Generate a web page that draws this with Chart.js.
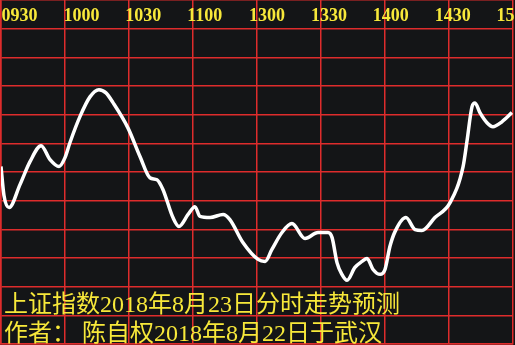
<!DOCTYPE html>
<html>
<head>
<meta charset="utf-8">
<script src="https://cdn.jsdelivr.net/npm/chart.js@4/dist/chart.umd.min.js"></script>
<style>
  html, body { margin: 0; padding: 0; background: #141517; }
  canvas { display: block; }
</style>
</head>
<body>
<canvas id="myChart" width="515" height="345"></canvas>
<script>
// time axis labels, one per 30 minutes of trading
const timeLabels = ['0930', '1000', '1030', '1100', '1300', '1330', '1400', '1430', '1500'];

// trading minutes since 09:30 (lunch break removed) and index level in grid rows
const minutes = [0, 1.4, 3.8, 8.9, 13.6, 18.8, 23, 27.2, 30, 32.3, 37, 41.7, 45.9, 49.2, 52.5, 59.5, 65.2, 69.8,
    73.1, 75.9, 80.6, 83.4, 87.7, 90.9, 93.3, 98, 104.1, 107.3, 113.4, 120.5, 123.8, 127, 131.7, 136.4, 142.5,
    148.6, 153.3, 155.2, 157.5, 159.8, 162.2, 165.9, 169.2, 171.6, 174.4, 177.7, 180, 182.3, 184.7, 189.8,
    194.1, 197.3, 203.4, 210.5, 216.6, 218.4, 220.8, 222.2, 224.5, 227.8, 230.6, 234.8, 239.5];
const level = [6.19, 5.18, 4.76, 5.56, 6.36, 6.92, 6.43, 6.19, 6.5, 7.02, 7.93, 8.62, 8.87, 8.76, 8.42, 7.54, 6.53, 5.8,
    5.73, 5.39, 4.41, 4.1, 4.52, 4.79, 4.45, 4.41, 4.52, 4.34, 3.54, 2.95, 2.88, 3.3, 3.89, 4.2, 3.68,
    3.89, 3.89, 3.71, 2.84, 2.43, 2.22, 2.67, 2.88, 2.98, 2.6, 2.43, 2.6, 3.4, 3.92, 4.41,
    3.99, 3.96, 4.41, 4.93, 6.19, 7.06, 8.28, 8.41, 8.07, 7.72, 7.58, 7.75, 8.07];

const footLines = ['上证指数2018年8月23日分时走势预测', '作者： 陈自权2018年8月22日于武汉'];

const yellow = '#f7e83a';
const red = 'rgb(222, 44, 44)';

let points = [];
for (let i = 0; i < minutes.length; i++) {
    points.push({ x: minutes[i], y: level[i] });
}

const textPlugin = {
    id: 'texts',
    afterDatasetsDraw(chart) {
        const ctx = chart.ctx;
        const xs = chart.scales.x;
        const area = chart.chartArea;
        ctx.save();
        ctx.fillStyle = yellow;
        ctx.textAlign = 'left';
        ctx.textBaseline = 'alphabetic';
        ctx.font = 'bold 18px "Liberation Serif"';
        timeLabels.forEach((label, i) => {
            const px = xs.getPixelForValue(i * 30);
            ctx.fillText(label, area.left + (px - area.left) * 0.967 + 0.5, 21);
        });
        ctx.font = '24px "Liberation Serif", "Noto Sans CJK SC"';
        footLines.forEach((line, i) => ctx.fillText(line, 4, 312 + i * 29));
        ctx.restore();
    }
};

let ctx = document.getElementById('myChart');
let myChart = new Chart(ctx, {
    type: 'line',
    data: {
        datasets: [{
            data: points,
            borderColor: '#ffffff',
            borderWidth: 3.5,
            pointRadius: 0,
            cubicInterpolationMode: 'monotone',
            fill: false
        }]
    },
    options: {
        responsive: false,
        animation: false,
        layout: { padding: { left: 1, right: 2, top: 0, bottom: 1 } },
        plugins: {
            legend: { display: false },
            tooltip: { enabled: false }
        },
        scales: {
            x: {
                type: 'linear',
                min: 0,
                max: 240,
                ticks: { display: false, stepSize: 30 },
                grid: { color: red, lineWidth: 1.5, drawTicks: false },
                border: { color: red, width: 1.5 }
            },
            y: {
                min: 0,
                max: 12,
                ticks: { display: false, stepSize: 1 },
                grid: { color: red, lineWidth: 1.5, drawTicks: false },
                border: { color: red, width: 1.5 }
            }
        }
    },
    plugins: [textPlugin]
});
</script>
</body>
</html>
